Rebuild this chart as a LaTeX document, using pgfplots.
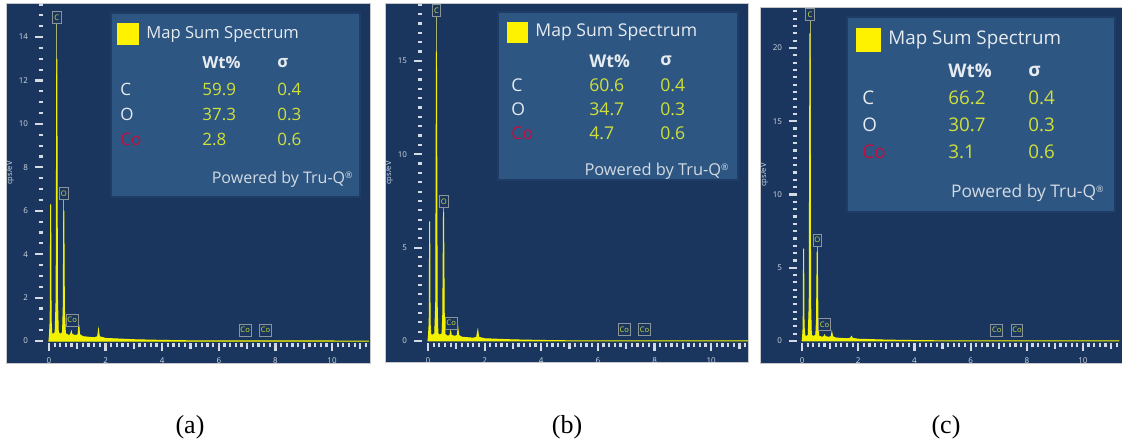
\documentclass[border=0pt]{standalone}
\usepackage{pgfplots}
\pgfplotsset{compat=1.18}
\usepackage{fontspec}
\setmainfont{Open Sans}
\newfontfamily\timesfont{Liberation Serif}
\definecolor{navy}{HTML}{1A365F}
\definecolor{legbox}{HTML}{2D5682}
\definecolor{legedge}{HTML}{1F3C66}
\definecolor{tickgray}{HTML}{D3DAE3}
\definecolor{specyellow}{HTML}{F2F200}
\definecolor{valyellow}{HTML}{D0E03A}
\definecolor{cored}{HTML}{C01040}
\definecolor{txtwhite}{HTML}{E6EBF0}
\definecolor{markline}{HTML}{A8B070}
\definecolor{boxedge}{HTML}{8A949A}
\newcommand\fs[1]{\fontsize{#1}{#1}\selectfont}

\pgfplotstableread{
x y
0 0
0.02 0.3
0.045 1.0
0.06 6.3
0.075 1.0
0.10 0.35
0.15 0.3
0.22 0.4
0.255 2.0
0.277 13.0
0.30 2.0
0.33 0.4
0.40 0.3
0.48 0.4
0.505 1.5
0.525 6.0
0.545 1.5
0.58 0.35
0.70 0.25
0.765 0.3
0.79 0.43
0.815 0.3
0.95 0.25
1.03 0.3
1.055 0.74
1.08 0.3
1.2 0.2
1.6 0.15
1.72 0.2
1.75 0.5
1.78 0.2
2.0 0.12
3.0 0.06
4.0 0.03
5.0 0.01
11.3 0
}\specA

\pgfplotstableread{
x y
0 0
0.02 0.3
0.045 1.0
0.06 6.4
0.075 1.0
0.10 0.35
0.15 0.3
0.24 0.4
0.275 2.0
0.30 15.5
0.325 2.0
0.35 0.4
0.42 0.3
0.50 0.4
0.525 1.5
0.55 6.9
0.575 1.5
0.60 0.35
0.70 0.25
0.775 0.3
0.80 0.5
0.825 0.3
0.95 0.25
1.035 0.3
1.06 0.63
1.085 0.3
1.2 0.2
1.6 0.15
1.72 0.2
1.76 0.55
1.79 0.2
2.0 0.12
3.0 0.06
4.0 0.03
5.0 0.01
11.3 0
}\specB

\pgfplotstableread{
x y
0 0
0.02 0.3
0.04 1.0
0.055 6.3
0.07 1.0
0.10 0.35
0.15 0.3
0.22 0.4
0.255 2.5
0.28 21.0
0.305 2.5
0.33 0.4
0.40 0.3
0.49 0.4
0.515 1.5
0.54 6.1
0.565 1.5
0.59 0.35
0.70 0.25
0.775 0.3
0.80 0.4
0.825 0.3
0.95 0.25
1.035 0.3
1.06 0.57
1.085 0.3
1.2 0.2
1.6 0.15
1.72 0.18
1.76 0.3
1.79 0.18
2.0 0.12
3.0 0.06
4.0 0.03
5.0 0.01
11.3 0
}\specC

\pgfplotsset{
  eds/.style={
    scale only axis, anchor=south west, clip=false,
    axis line style={draw=none},
    axis x line*=bottom, axis y line*=left,
    tick align=outside,
    major tick length=4pt, minor tick length=2.2pt,
    tick style={tickgray, line width=1.1pt},
    ticklabel style={font=\fs{4}, text=tickgray},
    /pgf/number format/assume math mode=true,
    xtick={0,2,...,10},
    minor xtick={0.2,0.4,...,11.21},
    extra x ticks={1,3,5,7,9,11},
    extra x tick labels={},
    extra x tick style={major tick length=3pt},
    ylabel={cps/eV},
    ylabel style={font=\fs{3.8}, text=tickgray, yshift=-4.5pt},
  },
}
\tikzset{ellab/.style={draw=boxedge, fill=navy, text=valyellow, font=\fs{3.8}, inner sep=0.6pt, minimum height=6pt, minimum width=4.2pt}}

\begin{document}
\begin{tikzpicture}[x=0.5pt,y=0.5pt]
\path[use as bounding box, fill=white] (0,0) rectangle (1122,448);
% frames
\fill[navy, draw=boxedge!50, line width=0.3pt] (6,445) rectangle (370,85);
\fill[navy, draw=boxedge!50, line width=0.3pt] (385,445) rectangle (748,86);
\fill[navy, draw=boxedge!50, line width=0.3pt] (760,441) rectangle (1122,85);

% ---------------- panel (a)
\begin{axis}[eds, at={(21.5pt,52.5pt)}, width=163.5pt, height=170pt,
  xmin=-0.21, xmax=11.34, ymin=-0.09, ymax=15.57,
  ytick={0,2,...,14}, minor ytick={0.5,1,...,15.5}]
\addplot[markline, line width=0.4pt] coordinates {(0.277,0) (0.277,14.9)};
\addplot[markline, line width=0.4pt] coordinates {(0.525,0) (0.525,6.8)};
\addplot[fill=specyellow, draw=specyellow, line width=0.5pt] table {\specA} \closedcycle;
\node[ellab] at (axis cs:0.28,14.9) {C};
\node[ellab] at (axis cs:0.53,6.8) {O};
\node[ellab] at (axis cs:0.82,0.97) {Co};
\node[ellab] at (axis cs:6.93,0.5) {Co};
\node[ellab] at (axis cs:7.65,0.5) {Co};
\end{axis}
\fill[legbox, draw=legedge, line width=0.6pt] (111,435) rectangle (360,251);
\fill[yellow] (117,425) rectangle (139,403);
\node[anchor=west, inner sep=0, font=\fs{8.3}, text=txtwhite] at (146,414) {Map Sum Spectrum};
\node[anchor=west, inner sep=0, font=\fs{8.3}\bfseries, text=txtwhite] at (202,385) {Wt\%};
\node[anchor=west, inner sep=0, font=\fs{8.3}\bfseries, text=txtwhite] at (277,385) {σ};
\node[anchor=west, inner sep=0, font=\fs{8.5}, text=txtwhite] at (120,359) {C};
\node[anchor=west, inner sep=0, font=\fs{8.5}, text=txtwhite] at (120,334) {O};
\node[anchor=west, inner sep=0, font=\fs{8.5}, text=cored] at (120,309) {Co};
\node[anchor=west, inner sep=0, font=\fs{8.5}, text=valyellow] at (202,359) {59.9};
\node[anchor=west, inner sep=0, font=\fs{8.5}, text=valyellow] at (202,334) {37.3};
\node[anchor=west, inner sep=0, font=\fs{8.5}, text=valyellow] at (202,309) {2.8};
\node[anchor=west, inner sep=0, font=\fs{8.5}, text=valyellow] at (277,359) {0.4};
\node[anchor=west, inner sep=0, font=\fs{8.5}, text=valyellow] at (277,334) {0.3};
\node[anchor=west, inner sep=0, font=\fs{8.5}, text=valyellow] at (277,309) {0.6};
\node[anchor=east, inner sep=0, font=\fs{8}, text=tickgray] at (353,269) {Powered by Tru-Q\raisebox{2.5pt}{\fs{4.5}®}};

% ---------------- panel (b)
\begin{axis}[eds, at={(211pt,52.5pt)}, width=163pt, height=170pt,
  xmin=-0.21, xmax=11.3, ymin=-0.107, ymax=18.1,
  ytick={0,5,10,15}, minor ytick={0.5,1,...,18}]
\addplot[markline, line width=0.4pt] coordinates {(0.30,0) (0.30,17.7)};
\addplot[markline, line width=0.4pt] coordinates {(0.55,0) (0.55,7.45)};
\addplot[fill=specyellow, draw=specyellow, line width=0.5pt] table {\specB} \closedcycle;
\node[ellab] at (axis cs:0.30,17.7) {C};
\node[ellab] at (axis cs:0.56,7.45) {O};
\node[ellab] at (axis cs:0.82,0.96) {Co};
\node[ellab] at (axis cs:6.93,0.6) {Co};
\node[ellab] at (axis cs:7.65,0.6) {Co};
\end{axis}
\fill[legbox, draw=legedge, line width=0.6pt] (498,436) rectangle (738,268);
\fill[yellow] (507,426) rectangle (528,405);
\node[anchor=west, inner sep=0, font=\fs{8.8}, text=txtwhite] at (535,416) {Map Sum Spectrum};
\node[anchor=west, inner sep=0, font=\fs{8.8}\bfseries, text=txtwhite] at (589,387) {Wt\%};
\node[anchor=west, inner sep=0, font=\fs{8.8}\bfseries, text=txtwhite] at (660,387) {σ};
\node[anchor=west, inner sep=0, font=\fs{8.8}, text=txtwhite] at (511,363) {C};
\node[anchor=west, inner sep=0, font=\fs{8.8}, text=txtwhite] at (511,339) {O};
\node[anchor=west, inner sep=0, font=\fs{8.8}, text=cored] at (511,315) {Co};
\node[anchor=west, inner sep=0, font=\fs{8.8}, text=valyellow] at (589,363) {60.6};
\node[anchor=west, inner sep=0, font=\fs{8.8}, text=valyellow] at (589,339) {34.7};
\node[anchor=west, inner sep=0, font=\fs{8.8}, text=valyellow] at (589,315) {4.7};
\node[anchor=west, inner sep=0, font=\fs{8.8}, text=valyellow] at (660,363) {0.4};
\node[anchor=west, inner sep=0, font=\fs{8.8}, text=valyellow] at (660,339) {0.3};
\node[anchor=west, inner sep=0, font=\fs{8.8}, text=valyellow] at (660,315) {0.6};
\node[anchor=east, inner sep=0, font=\fs{8.2}, text=tickgray] at (729,277) {Powered by Tru-Q\raisebox{2.5pt}{\fs{4.5}®}};

% ---------------- panel (c)
\begin{axis}[eds, at={(398.5pt,52.5pt)}, width=162.5pt, height=168pt,
  xmin=-0.18, xmax=11.39, ymin=-0.137, ymax=22.8,
  ytick={0,5,10,15,20}, minor ytick={0.5,1,...,22.5}]
\addplot[markline, line width=0.4pt] coordinates {(0.28,0) (0.28,22.3)};
\addplot[markline, line width=0.4pt] coordinates {(0.54,0) (0.54,6.9)};
\addplot[fill=specyellow, draw=specyellow, line width=0.5pt] table {\specC} \closedcycle;
\node[ellab] at (axis cs:0.28,22.3) {C};
\node[ellab] at (axis cs:0.54,6.9) {O};
\node[ellab] at (axis cs:0.80,1.1) {Co};
\node[ellab] at (axis cs:6.93,0.75) {Co};
\node[ellab] at (axis cs:7.65,0.75) {Co};
\end{axis}
\fill[legbox, draw=legedge, line width=0.6pt] (847,431) rectangle (1115,236);
\fill[yellow] (856,420) rectangle (881,396);
\node[anchor=west, inner sep=0, font=\fs{9.4}, text=txtwhite] at (888,408) {Map Sum Spectrum};
\node[anchor=west, inner sep=0, font=\fs{9.4}\bfseries, text=txtwhite] at (948,377) {Wt\%};
\node[anchor=west, inner sep=0, font=\fs{9.4}\bfseries, text=txtwhite] at (1028,377) {σ};
\node[anchor=west, inner sep=0, font=\fs{9.4}, text=txtwhite] at (862,350) {C};
\node[anchor=west, inner sep=0, font=\fs{9.4}, text=txtwhite] at (862,323) {O};
\node[anchor=west, inner sep=0, font=\fs{9.4}, text=cored] at (862,296) {Co};
\node[anchor=west, inner sep=0, font=\fs{9.4}, text=valyellow] at (948,350) {66.2};
\node[anchor=west, inner sep=0, font=\fs{9.4}, text=valyellow] at (948,323) {30.7};
\node[anchor=west, inner sep=0, font=\fs{9.4}, text=valyellow] at (948,296) {3.1};
\node[anchor=west, inner sep=0, font=\fs{9.4}, text=valyellow] at (1028,350) {0.4};
\node[anchor=west, inner sep=0, font=\fs{9.4}, text=valyellow] at (1028,323) {0.3};
\node[anchor=west, inner sep=0, font=\fs{9.4}, text=valyellow] at (1028,296) {0.6};
\node[anchor=east, inner sep=0, font=\fs{8.7}, text=tickgray] at (1104,255) {Powered by Tru-Q\raisebox{2.5pt}{\fs{4.5}®}};

% panel captions
\node[font=\timesfont\fs{13}] at (190,21) {(a)};
\node[font=\timesfont\fs{13}] at (567,21) {(b)};
\node[font=\timesfont\fs{13}] at (946,21) {(c)};
\end{tikzpicture}
\end{document}
